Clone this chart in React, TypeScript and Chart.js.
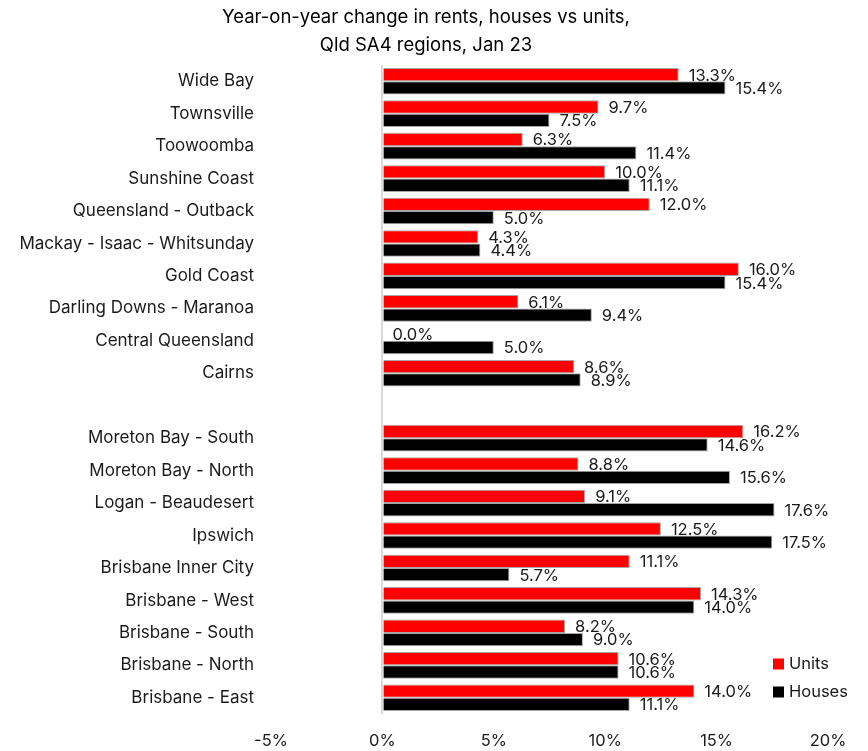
import React, { useEffect, useRef } from "react";
import { Chart, registerables } from "chart.js";

Chart.register(...registerables);

const categories = [
  "Wide Bay",
  "Townsville",
  "Toowoomba",
  "Sunshine Coast",
  "Queensland - Outback",
  "Mackay - Isaac - Whitsunday",
  "Gold Coast",
  "Darling Downs - Maranoa",
  "Central Queensland",
  "Cairns",
  "",
  "Moreton Bay - South",
  "Moreton Bay - North",
  "Logan - Beaudesert",
  "Ipswich",
  "Brisbane Inner City",
  "Brisbane - West",
  "Brisbane - South",
  "Brisbane - North",
  "Brisbane - East",
];

const units = [13.3, 9.7, 6.3, 10.0, 12.0, 4.3, 16.0, 6.1, 0.0, 8.6, null, 16.2, 8.8, 9.1, 12.5, 11.1, 14.3, 8.2, 10.6, 14.0];
const houses = [15.4, 7.5, 11.4, 11.1, 5.0, 4.4, 15.4, 9.4, 5.0, 8.9, null, 14.6, 15.6, 17.6, 17.5, 5.7, 14.0, 9.0, 10.6, 11.1];

const xTicks = [-5, 0, 5, 10, 15, 20];
const titleLines = ["Year-on-year change in rents, houses vs units,", "Qld SA4 regions, Jan 23"];

const FONT = "Inter";
const TEXT = "#1a1a1a";

const titlePlugin = {
  id: "twoLineTitle",
  afterDraw(chart: any) {
    const ctx = chart.ctx;
    ctx.save();
    ctx.font = `18.5px ${FONT}`;
    ctx.fillStyle = "#000";
    ctx.textAlign = "center";
    ctx.textBaseline = "middle";
    titleLines.forEach((t, i) => ctx.fillText(t, 426, 17 + i * 28));
    ctx.restore();
  },
};

const labelPlugin = {
  id: "valueLabels",
  afterDatasetsDraw(chart: any) {
    const ctx = chart.ctx;
    ctx.save();
    ctx.font = `16.5px ${FONT}`;
    ctx.fillStyle = TEXT;
    ctx.textAlign = "left";
    ctx.textBaseline = "middle";
    chart.data.datasets.forEach((ds: any, di: number) => {
      const meta = chart.getDatasetMeta(di);
      meta.data.forEach((el: any, i: number) => {
        const v = ds.data[i];
        if (v === null || v === undefined) return;
        ctx.fillText(v.toFixed(1) + "%", el.x + 10, el.y + 1);
      });
    });
    ctx.restore();
  },
};

const legendPlugin = {
  id: "customLegend",
  afterDraw(chart: any) {
    const ctx = chart.ctx;
    ctx.save();
    ctx.font = `16.5px ${FONT}`;
    ctx.textAlign = "left";
    ctx.textBaseline = "middle";
    const items = chart.data.datasets.map((d: any) => ({ label: d.label, color: d.backgroundColor }));
    const x = 773;
    const y0 = 664;
    items.forEach((it: any, i: number) => {
      const y = y0 + i * 28;
      ctx.fillStyle = it.color;
      ctx.fillRect(x, y - 5.5, 11, 11);
      ctx.fillStyle = TEXT;
      ctx.fillText(it.label, x + 16, y);
    });
    ctx.restore();
  },
};

export default function App() {
  const ref = useRef<HTMLCanvasElement | null>(null);
  useEffect(() => {
    document.body.style.margin = "0";
    const chart = new Chart(ref.current as HTMLCanvasElement, {
      type: "bar",
      data: {
        labels: categories,
        datasets: [
          {
            label: "Units",
            data: units,
            backgroundColor: "#ff0000",
            borderColor: "#a6a6a6",
            borderWidth: 1,
            categoryPercentage: 0.82,
            barPercentage: 1,
          },
          {
            label: "Houses",
            data: houses,
            backgroundColor: "#000000",
            borderColor: "#a6a6a6",
            borderWidth: 1,
            categoryPercentage: 0.82,
            barPercentage: 1,
          },
        ],
      },
      options: {
        indexAxis: "y",
        animation: false,
        responsive: false,
        maintainAspectRatio: false,
        layout: { padding: { left: 0, right: 40, top: 65, bottom: 0 } },
        plugins: {
          legend: { display: false },
          tooltip: { enabled: false },
          title: { display: false },
        },
        scales: {
          x: {
            type: "linear",
            min: -5,
            max: 20,
            afterBuildTicks: (scale: any) => {
              scale.ticks = xTicks.map((v) => ({ value: v }));
            },
            afterFit: (scale: any) => {
              scale.height = 37;
            },
            ticks: {
              callback: (v: any) => v + "%",
              color: TEXT,
              font: { family: FONT, size: 16.5 },
              padding: 17,
              maxRotation: 0,
            },
            grid: {
              drawTicks: false,
              color: (c: any) => (c.tick && c.tick.value === 0 ? "#d9d9d9" : "rgba(0,0,0,0)"),
              lineWidth: 2,
            },
            border: { display: false },
          },
          y: {
            type: "category",
            afterFit: (scale: any) => {
              scale.width = 271;
            },
            ticks: {
              autoSkip: false,
              color: TEXT,
              font: { family: FONT, size: 17 },
              padding: 17,
            },
            grid: { display: false, drawTicks: false },
            border: { display: false },
          },
        },
      },
      plugins: [labelPlugin, legendPlugin, titlePlugin],
    });
    return () => chart.destroy();
  }, []);
  return (
    <div style={{ width: 868, height: 751 }}>
      <canvas ref={ref} width={868} height={751} style={{ display: "block" }} />
    </div>
  );
}
